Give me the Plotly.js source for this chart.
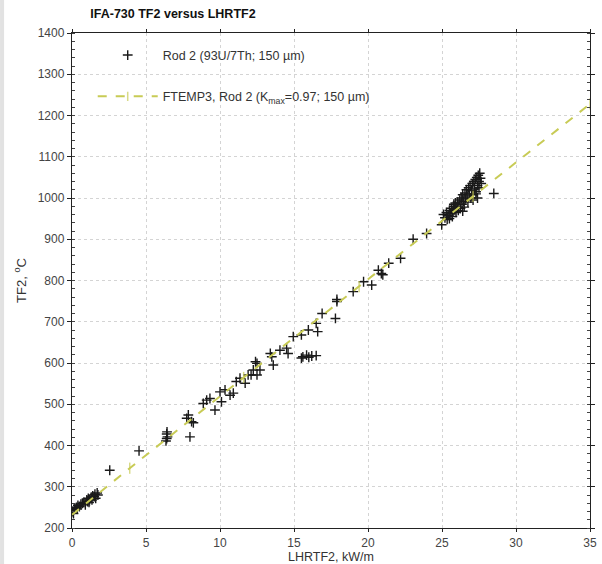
<!DOCTYPE html>
<html>
<head>
<meta charset="utf-8">
<script src="https://cdn.plot.ly/plotly-3.0.1.min.js"></script>
<style>html,body{margin:0;padding:0;background:#fff;}#chart{width:602px;height:564px;}</style>
</head>
<body>
<div id="chart"></div>
<script>
// Measured data: Rod 2 (93U/7Th; 150 µm)
var rodX = [
  0.05,0.1,0.15,0.2,0.3,0.35,0.4,0.5,0.6,0.7,0.8,0.9,1.0,1.05,1.1,1.15,1.2,1.3,1.35,1.4,1.5,1.55,1.6,1.7,1.75,
  2.55,4.53,
  6.35,6.4,6.4,6.42,6.45,
  7.75,7.86,7.97,8.08,8.2,
  8.87,9.1,9.32,9.66,10.0,10.1,10.34,10.68,10.9,11.1,11.35,11.7,11.9,12.1,12.25,12.4,12.5,12.5,12.7,
  13.4,13.5,13.6,14.05,14.5,14.6,14.95,
  15.5,15.6,15.85,16.0,16.2,16.5,
  15.5,15.97,16.5,16.6,16.9,17.8,17.9,17.9,19.0,19.7,20.25,20.7,20.9,21.0,21.4,22.2,23.05,23.96,24.98,
  25.1,25.2,25.3,25.35,25.4,25.5,25.5,25.6,25.65,25.7,25.75,25.8,25.85,25.9,25.95,26.0,26.05,26.1,26.15,26.2,
  26.25,26.3,26.35,26.4,26.45,26.5,26.55,26.6,26.65,26.7,26.75,26.8,26.85,26.9,26.95,27.0,27.05,27.1,27.15,
  27.2,27.25,27.3,27.35,27.4,27.45,27.5,27.55,27.6,27.65,27.3,27.5,27.1,26.4,25.8,
  27.4,28.5
];
var rodY = [
  240,235,245,248,250,246,255,252,258,260,262,256,268,264,272,262,270,275,268,278,276,282,272,285,280,
  340,387,
  411,417,428,433,421,
  466,474,421,458,455,
  502,510,514,486,530,506,535,522,527,555,563,551,571,571,583,603,571,599,583,
  623,615,595,631,636,623,664,
  612,615,619,614,617,618,
  668,680,696,676,720,708,749,754,773,797,789,825,817,814,842,854,900,914,935,
  960,952,965,948,958,970,950,962,975,955,968,980,972,988,965,978,990,970,985,995,
  975,1000,985,1008,992,978,1012,998,1020,1005,990,1025,1010,1030,1000,1018,1035,995,1040,
  1022,1045,1010,1050,1030,1055,1040,1060,1048,1035,1015,1025,1008,968,985,
  1000,1011
];
// Measured data: FTEMP3, Rod 2 (Kmax=0.97; 150 µm)
var ftX = [0, 3.9, 11.6, 19.4, 27.1, 35];
var ftY = [232, 345, 565, 785, 1004, 1228];
var ftMarkSize = [0, 8, 8, 8, 8, 8];

var traces = [
  {
    x: rodX, y: rodY, type: 'scatter', mode: 'markers',
    name: 'Rod 2 (93U/7Th; 150 µm)', legendgroup: 'a',
    marker: {symbol: 'cross-thin-open', size: 7, color: '#1a1a1a', line: {width: 1.4, color: '#1a1a1a'}}
  },
  {
    x: ftX, y: ftY, type: 'scatter', mode: 'lines+markers',
    name: 'FTEMP3, Rod 2 (K<sub>max</sub>=0.97; 150 µm)', legendgroup: 'b',
    line: {color: '#c8cb55', width: 2, dash: 'dash'},
    marker: {symbol: 'line-ns-open', size: ftMarkSize, color: '#c8cb55', line: {width: 1.5, color: '#c8cb55'}}
  }
];

var axisCommon = {
  showline: true, linecolor: '#222', linewidth: 1.2, mirror: 'allticks',
  ticks: 'outside', ticklen: 3, tickcolor: '#222', tickwidth: 1,
  showgrid: true, gridcolor: '#d4d4d4', griddash: 'dot', gridwidth: 1,
  zeroline: false,
  tickfont: {family: 'Liberation Sans, Arial, sans-serif', size: 12, color: '#444'}
};

var layout = {
  width: 602, height: 564,
  margin: {l: 72, r: 12, t: 33, b: 36},
  paper_bgcolor: '#fff', plot_bgcolor: '#fff',
  font: {family: 'Liberation Sans, Arial, sans-serif', color: '#333'},
  title: {
    text: '<b>IFA-730 TF2 versus LHRTF2</b>',
    xref: 'container', yref: 'container', x: 0.15, xanchor: 'left', y: 0.975, yanchor: 'middle',
    font: {size: 12.5, color: '#111', family: 'Liberation Sans, Arial, sans-serif'}
  },
  xaxis: Object.assign({}, axisCommon, {
    range: [0, 35], dtick: 5, tick0: 0, automargin: false,
    title: {text: 'LHRTF2, kW/m', standoff: 0, font: {size: 12.5, color: '#333'}}
  }),
  yaxis: Object.assign({}, axisCommon, {
    range: [200, 1400], dtick: 100, tick0: 200, ticklen: 4,
    minor: {dtick: 20, ticks: 'inside', ticklen: 3, tickcolor: '#444', showgrid: false},
    title: {text: 'TF2, <sup>o</sup>C', standoff: 8, font: {size: 13, color: '#333'}}
  }),
  showlegend: true,
  legend: {
    x: 0.04, y: 0.985, xanchor: 'left', yanchor: 'top',
    bgcolor: 'rgba(255,255,255,0)', borderwidth: 0,
    font: {size: 12.5, color: '#333', family: 'Liberation Sans, Arial, sans-serif'},
    tracegroupgap: 22, itemwidth: 60
  },
  shapes: [
    {type: 'line', xref: 'paper', yref: 'paper', x0: -0.135, x1: -0.135, y0: -0.073, y1: 1.067,
     line: {color: '#e2e2e2', width: 4}}
  ]
};

Plotly.newPlot('chart', traces, layout, {displayModeBar: false, staticPlot: true});
</script>
</body>
</html>
